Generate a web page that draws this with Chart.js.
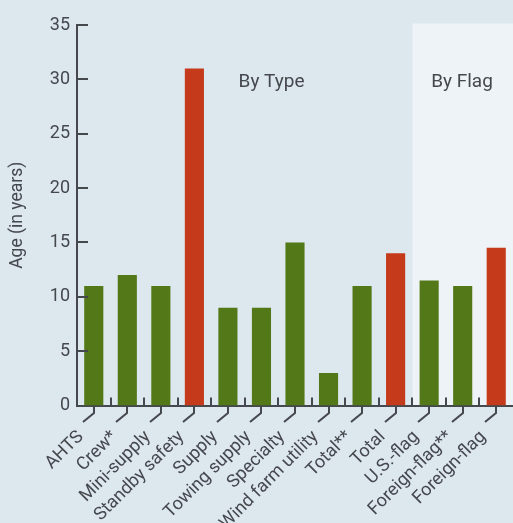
<!DOCTYPE html>
<html>
<head>
<meta charset="utf-8">
<script src="https://cdn.jsdelivr.net/npm/chart.js@4"></script>
<style>
html, body { margin:0; padding:0; background:#dde7ee; }
#wrap { width:513px; height:523px; position:relative; }
</style>
</head>
<body>
<div id="wrap"><canvas id="chart"></canvas></div>
<script>
// data
const categories = ['AHTS', 'Crew*', 'Mini-supply', 'Standby safety', 'Supply', 'Towing supply', 'Specialty', 'Wind farm utility', 'Total**', 'Total', 'U.S.-flag', 'Foreign-flag**', 'Foreign-flag'];
const ages = [11, 12, 11, 31, 9, 9, 15, 3, 11, 14, 11.5, 11, 14.5];
const isTotal = [false, false, false, true, false, false, false, false, false, true, false, false, true];
const yTicks = [0, 5, 10, 15, 20, 25, 30, 35];
const groupLabels = ['By Type', 'By Flag'];
const flagStart = 10; // first category of the "By Flag" group

const GREEN = '#527818';
const RED = '#c43a1a';
const INK = '#45484d';
const FONT = 'Roboto';

// shaded panel, group captions, inner ticks and leader lines
const decor = {
  id: 'decor',
  beforeDraw(chart) {
    const ctx = chart.ctx, x = chart.scales.x, y = chart.scales.y;
    const left = (x.getPixelForValue(flagStart - 1) + x.getPixelForValue(flagStart)) / 2;
    ctx.save();
    ctx.fillStyle = '#eef3f7';
    ctx.fillRect(left, y.getPixelForValue(35) - 1.5, chart.width - left, y.getPixelForValue(0) - y.getPixelForValue(35) + 1.5);
    ctx.fillStyle = INK;
    ctx.font = '19px ' + FONT;
    ctx.textAlign = 'center';
    ctx.textBaseline = 'middle';
    ctx.fillText(groupLabels[0], x.getPixelForValue(5.3), y.getPixelForValue(29.7));
    ctx.fillText(groupLabels[1], x.getPixelForValue(10.98), y.getPixelForValue(29.7));
    ctx.restore();
  },
  afterDraw(chart) {
    const ctx = chart.ctx, x = chart.scales.x, y = chart.scales.y;
    const y0 = y.getPixelForValue(0);
    const ax = chart.chartArea.left;
    ctx.save();
    ctx.strokeStyle = INK;
    ctx.lineWidth = 2;
    yTicks.forEach(v => {
      if (v === 0) return;
      const py = Math.round(y.getPixelForValue(v));
      ctx.beginPath();
      ctx.moveTo(ax, py);
      ctx.lineTo(ax + 11, py);
      ctx.stroke();
    });
    categories.forEach((c, i) => {
      const px = Math.round(x.getPixelForValue(i));
      if (i > 0) {
        const bx = Math.round((x.getPixelForValue(i - 1) + x.getPixelForValue(i)) / 2);
        ctx.beginPath();
        ctx.moveTo(bx, y0);
        ctx.lineTo(bx, y0 - 8);
        ctx.stroke();
      }
      ctx.beginPath();
      ctx.moveTo(px, y0);
      ctx.lineTo(px, y0 + 7.5);
      ctx.lineTo(px - 11, y0 + 16.5);
      ctx.stroke();
    });
    ctx.restore();
  }
};

new Chart(document.getElementById('chart'), {
  type: 'bar',
  data: {
    labels: categories,
    datasets: [{
      data: ages,
      backgroundColor: isTotal.map(t => t ? RED : GREEN),
      barPercentage: 0.57,
      categoryPercentage: 1
    }]
  },
  options: {
    responsive: true,
    maintainAspectRatio: false,
    animation: false,
    layout: {padding: {top: 25, right: 0, bottom: 0, left: 0}},
    plugins: {legend: {display: false}, tooltip: {enabled: false}},
    scales: {
      x: {
        grid: {display: false, drawTicks: false},
        border: {display: true, color: INK, width: 2},
        ticks: {
          color: INK, font: {family: FONT, size: 18},
          minRotation: 45, maxRotation: 45, autoSkip: false,
          labelOffset: -13, padding: 21
        },
        afterFit: s => { s.height = 117.5; s.paddingLeft = 0; s.paddingRight = 0; }
      },
      y: {
        min: 0, max: 35,
        grid: {display: false, drawTicks: false},
        border: {display: true, color: INK, width: 2},
        afterBuildTicks: s => { s.ticks = yTicks.map(v => ({value: v})); },
        ticks: {color: INK, font: {family: FONT, size: 18}, padding: 7},
        title: {display: true, text: 'Age (in years)', color: INK, font: {family: FONT, size: 17.5}, padding: {top: 7, bottom: 4}},
        afterFit: s => { s.width = 77; s.paddingTop = 0; s.paddingBottom = 0; }
      }
    }
  },
  plugins: [decor]
});
</script>
</body>
</html>
